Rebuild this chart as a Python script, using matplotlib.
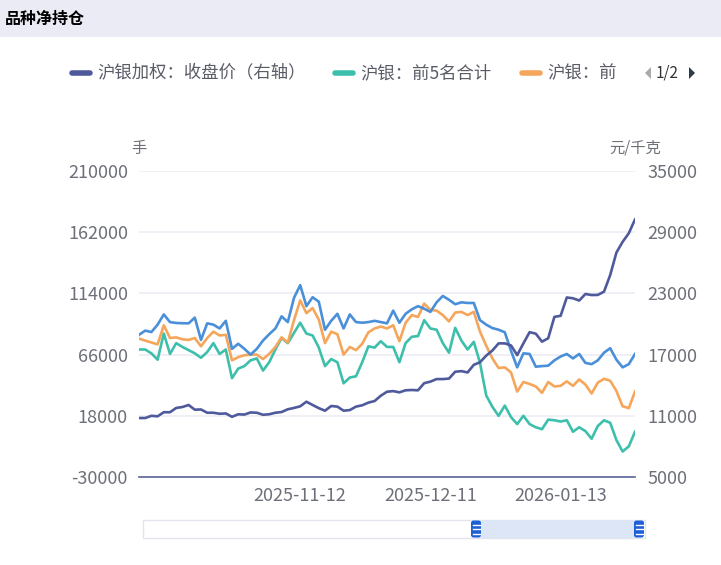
import numpy as np
import matplotlib.pyplot as plt
from matplotlib.patches import Rectangle, FancyBboxPatch, Polygon

plt.rcParams['font.family'] = ['Noto Sans CJK SC', 'DejaVu Sans']

# 沪银加权：收盘价（右轴）, 元/千克
price = [10780, 10780, 11000, 10950, 11350, 11350, 11770, 11860, 12060, 11600,
         11620, 11300, 11300, 11200, 11230, 10900, 11150, 11120, 11330, 11300,
         11100, 11150, 11300, 11370, 11640, 11770, 11930, 12380, 12060, 11750,
         11500, 11960, 11900, 11500, 11560, 11900, 12030, 12290, 12450, 12970,
         13360, 13420, 13300, 13500, 13530, 13500, 14200, 14350, 14600, 14600,
         14650, 15320, 15380, 15250, 16000, 16250, 16900, 17400, 18100, 18100,
         17900, 16950, 18100, 19200, 19050, 18270, 18600, 20700, 20800, 22600,
         22520, 22300, 22940, 22840, 22850, 23170, 24800, 27000, 28050, 28900,
         30250]

# 沪银：前5名合计, 手
top5_total = [70000, 70000, 67000, 62000, 82500, 66500, 75000, 72000, 69500, 67000,
              63500, 68000, 75000, 66500, 70000, 47500, 55000, 57000, 61500, 63000,
              53500, 60000, 70000, 79000, 75000, 83000, 91000, 82500, 81000, 71500,
              57000, 62500, 60000, 43500, 48000, 49000, 60000, 72500, 71500, 76500,
              72000, 72000, 60000, 75000, 80000, 80500, 93000, 86500, 85500, 75000,
              67500, 87000, 77000, 70000, 76000, 59500, 34000, 25000, 18000, 26000,
              17000, 11500, 18000, 11500, 9000, 7500, 15000, 14500, 13500, 14500,
              5500, 9000, 6000, 0, 10000, 14500, 12500, -1000, -10000, -6000,
              5500]

# 沪银：前... (orange)
top_b = [78500, 77000, 75500, 74000, 89000, 79000, 79500, 78000, 77500, 79000,
         72500, 79000, 84000, 81000, 81500, 61500, 64000, 65500, 66000, 66000,
         62500, 66500, 72000, 79500, 75500, 93000, 108500, 98500, 102500, 93500,
         75000, 84000, 82000, 66000, 72000, 69500, 74500, 83500, 86500, 88000,
         86500, 89000, 76500, 91000, 97000, 95500, 106000, 101000, 100500, 97000,
         92000, 99000, 99500, 97000, 99500, 84000, 73000, 63000, 55500, 56000,
         52000, 37000, 44500, 43000, 41000, 36000, 44500, 41000, 41500, 45000,
         41500, 46500, 42500, 35500, 44000, 47000, 45500, 37500, 25500, 24000,
         37000]

# legend page 2 series (blue)
top_c = [81500, 84800, 83700, 89500, 97500, 91500, 90800, 90600, 90500, 95000,
         77500, 90500, 89500, 86500, 92500, 70500, 74500, 70500, 66000, 70500,
         77000, 82000, 86500, 96000, 91500, 110500, 120500, 104000, 111000, 107500,
         85500, 92500, 98000, 86500, 97500, 91500, 91000, 91500, 92500, 91500,
         90500, 100500, 91000, 98000, 101500, 104000, 102000, 99500, 107000, 112000,
         109000, 105500, 107000, 106500, 106500, 93000, 89500, 86800, 85500, 83500,
         69000, 56000, 67000, 66500, 56500, 57000, 57300, 61500, 64500, 66500,
         63000, 66500, 59500, 58500, 61500, 67500, 71000, 62000, 56000, 58500,
         66500]

date_ticks = [26, 47, 68]
date_labels = ['2025-11-12', '2025-12-11', '2026-01-13']
left_ticks = [-30000, 18000, 66000, 114000, 162000, 210000]
right_ticks = [5000, 11000, 17000, 23000, 29000, 35000]

c_price = '#4f5a9c'
c_teal = '#3dbfac'
c_orange = '#f5a65b'
c_blue = '#4a8fd9'
c_text = '#6e7079'

W, H = 721, 565
fig = plt.figure(figsize=(W / 100, H / 100), dpi=100)

# overlay for header, legend and slider (pixel coordinates)
ov = fig.add_axes([0, 0, 1, 1])
ov.set_xlim(0, W)
ov.set_ylim(H, 0)
ov.axis('off')
ov.add_patch(Rectangle((0, 0), W, 37, color='#ebebf5', lw=0))
ov.text(5, 19, '品种净持仓', fontsize=11.5, fontweight='bold', va='center', color='black')

leg = [(70, c_price, '沪银加权：收盘价（右轴）'),
       (333, c_teal, '沪银：前5名合计'),
       (520, c_orange, '沪银：前')]
for lx, col, lab in leg:
    ov.plot([lx + 2, lx + 20], [73, 73], color=col, lw=4, solid_capstyle='round')
    ov.text(lx + 27, 73, lab, fontsize=12.5, va='center', color='#5a5c66')
ov.add_patch(Polygon([[645, 73], [651, 67], [651, 79]], color='#aaaaaa', lw=0))
ov.text(656, 73, '1/2', fontsize=11, va='center', color='#333333')
ov.add_patch(Polygon([[695, 73], [689, 67], [689, 79]], color='#2f3a4a', lw=0))

# data zoom slider
ov.add_patch(Rectangle((143, 520), 502, 18, facecolor='white', edgecolor='#e2e4ee', lw=1))
ov.add_patch(Rectangle((476, 520), 163, 18, facecolor='#dde6f7', lw=0))
for hx in [476, 639]:
    ov.add_patch(FancyBboxPatch((hx - 5, 520.5), 10, 17, boxstyle='round,pad=0,rounding_size=2.5',
                                facecolor='#1e5fd6', edgecolor='none'))
    for hy in [524.5, 529, 533.5]:
        ov.plot([hx - 3.5, hx + 3.5], [hy, hy], color='white', lw=1)

# main chart
ax = fig.add_axes([139 / W, 1 - 477 / H, 496 / W, 306 / H])
ax2 = ax.twinx()
x = np.arange(len(price))

ax.plot(x, top5_total, color=c_teal, lw=1.9)
ax.plot(x, top_b, color=c_orange, lw=1.9)
ax.plot(x, top_c, color=c_blue, lw=1.9)
ax2.plot(x, price, color=c_price, lw=1.9)

ax.set_xlim(0, len(price) - 1)
ax.set_ylim(-30000, 210000)
ax2.set_ylim(5000, 35000)
ax.set_yticks(left_ticks)
ax2.set_yticks(right_ticks)
ax.set_yticklabels([str(v) for v in left_ticks])
ax2.set_yticklabels([str(v) for v in right_ticks])
ax.set_xticks(date_ticks)
ax.set_xticklabels(date_labels)

ax.grid(axis='y', color='#ececf4', lw=1.2)
ax.set_axisbelow(True)
for a in (ax, ax2):
    for s in ['top', 'left', 'right', 'bottom']:
        a.spines[s].set_visible(False)
    a.tick_params(length=0, labelsize=13, colors=c_text)
ax.spines['bottom'].set_visible(True)
ax.spines['bottom'].set_color('#5b6395')
ax.spines['bottom'].set_linewidth(1.2)
ax.tick_params(axis='y', pad=8)
ax2.tick_params(axis='y', pad=9)
ax.tick_params(axis='x', pad=7)

ax.text(0, 1.075, '手', transform=ax.transAxes, ha='center', va='center', fontsize=11, color=c_text)
ax2.text(1.0, 1.075, '元/千克', transform=ax2.transAxes, ha='center', va='center', fontsize=11, color=c_text)

fig.savefig('out.png', dpi=100)
